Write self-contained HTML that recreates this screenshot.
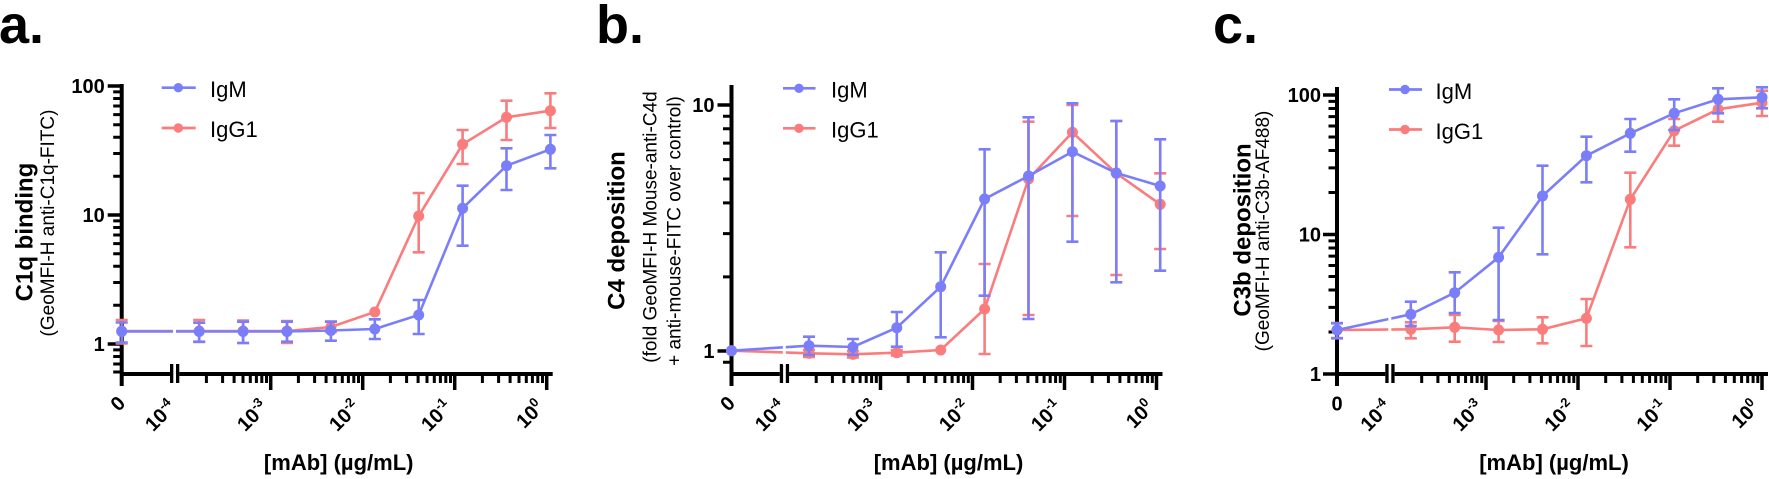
<!DOCTYPE html>
<html><head><meta charset="utf-8"><style>
html,body{margin:0;padding:0;background:#fff;}
svg{display:block;}
text{font-family:"Liberation Sans",Arial,Helvetica,sans-serif;}
</style></head><body>
<svg width="1769" height="479" viewBox="0 0 1769 479" xmlns="http://www.w3.org/2000/svg">
<rect width="1769" height="479" fill="#fff"/>
<defs>
<g id="xaxis">
<line x1="0" y1="374" x2="48.3" y2="374" stroke="#000" stroke-width="4"/>
<line x1="57.6" y1="374" x2="431" y2="374" stroke="#000" stroke-width="4"/>
<rect x="48.3" y="364" width="3.3" height="19" fill="#000"/>
<rect x="54.3" y="364" width="3.3" height="19" fill="#000"/>
<path d="M149,374V390M241,374V390M333,374V390M425,374V390" stroke="#000" stroke-width="3.5"/>
<path d="M84.7,374V383M100.9,374V383M112.4,374V383M121.3,374V383M128.6,374V383M134.7,374V383M140.1,374V383M144.8,374V383M176.7,374V383M192.9,374V383M204.4,374V383M213.3,374V383M220.6,374V383M226.7,374V383M232.1,374V383M236.8,374V383M268.7,374V383M284.9,374V383M296.4,374V383M305.3,374V383M312.6,374V383M318.7,374V383M324.1,374V383M328.8,374V383M360.7,374V383M376.9,374V383M388.4,374V383M397.3,374V383M404.6,374V383M410.7,374V383M416.1,374V383M420.8,374V383" stroke="#000" stroke-width="3"/>
<g font-size="20" font-weight="bold" fill="#000">
<text transform="translate(55.5,408.5) rotate(-45)" text-anchor="end">10<tspan font-size="13" dy="-8">-4</tspan></text>
<text transform="translate(147.5,408.5) rotate(-45)" text-anchor="end">10<tspan font-size="13" dy="-8">-3</tspan></text>
<text transform="translate(239.5,408.5) rotate(-45)" text-anchor="end">10<tspan font-size="13" dy="-8">-2</tspan></text>
<text transform="translate(331.5,408.5) rotate(-45)" text-anchor="end">10<tspan font-size="13" dy="-8">-1</tspan></text>
<text transform="translate(423.5,408.5) rotate(-45)" text-anchor="end">10<tspan font-size="13" dy="-8">0</tspan></text>
</g>
<text x="217" y="470" font-size="22" font-weight="bold" text-anchor="middle" fill="#000">[mAb] (µg/mL)</text>
</g>
</defs>

<!-- Panel letters -->
<g font-size="54" font-weight="bold" fill="#000">
<text x="-1" y="43">a.</text>
<text x="596" y="43">b.</text>
<text x="1213" y="43">c.</text>
</g>

<!-- Y titles -->
<g fill="#000" text-anchor="middle">
<text transform="translate(32.5,232) rotate(-90)" font-size="24" font-weight="bold">C1q binding</text>
<text transform="translate(54,223) rotate(-90)" font-size="19">(GeoMFI-H anti-C1q-FITC)</text>
<text transform="translate(624.5,230.5) rotate(-90)" font-size="24" font-weight="bold">C4 deposition</text>
<text transform="translate(656.5,227) rotate(-90)" font-size="19">(fold GeoMFI-H Mouse-anti-C4d</text>
<text transform="translate(680.5,231) rotate(-90)" font-size="19">+ anti-mouse-FITC over control)</text>
<text transform="translate(1250.5,230) rotate(-90)" font-size="24" font-weight="bold">C3b deposition</text>
<text transform="translate(1269,231) rotate(-90)" font-size="19">(GeoMFI-H anti-C3b-AF488)</text>
</g>

<!-- ===== Chart a ===== -->
<g transform="translate(121.7,0)">
<line x1="0" y1="84" x2="0" y2="386" stroke="#000" stroke-width="4"/>
<use href="#xaxis"/>
<path d="M-14,86H0M-14,215H0M-14,344H0" stroke="#000" stroke-width="3.5"/>
<path d="M-8.5,305.2H0M-8.5,282.5H0M-8.5,266.3H0M-8.5,253.8H0M-8.5,243.6H0M-8.5,235H0M-8.5,227.5H0M-8.5,220.9H0M-8.5,176.2H0M-8.5,153.5H0M-8.5,137.3H0M-8.5,124.8H0M-8.5,114.6H0M-8.5,106H0M-8.5,98.5H0M-8.5,91.9H0M-8.5,349.9H0M-8.5,356.5H0M-8.5,364H0M-8.5,372H0" stroke="#000" stroke-width="3"/>
<g font-size="20" font-weight="bold" text-anchor="end" fill="#000">
<text x="-17" y="93">100</text>
<text x="-17" y="222">10</text>
<text x="-17" y="351">1</text>
</g>
<text transform="translate(4.8,404.4) rotate(-45)" text-anchor="end" font-size="20" font-weight="bold">0</text>
<!-- IgG1 -->
<g stroke="#fa7c7c" fill="none" stroke-width="2.6">
<polyline points="0,331 77.5,331 121.4,331 165.3,331 209.2,327 253.1,312 297,216 340.9,144.3 384.8,117.3 428.7,110.7"/>
<path d="M0,320V343.5M-6,320H6M-6,343.5H6 M77.5,320V342M71.5,320H83.5M71.5,342H83.5 M121.4,320.5V343M115.4,320.5H127.4M115.4,343H127.4 M165.3,321V343M159.3,321H171.3M159.3,343H171.3 M209.2,321.5V332M203.2,321.5H215.2M203.2,332H215.2 M297,193V252.3M291,193H303M291,252.3H303 M340.9,130V164M334.9,130H346.9M334.9,164H346.9 M384.8,100.7V140M378.8,100.7H390.8M378.8,140H390.8 M428.7,93.3V128M422.7,93.3H434.7M422.7,128H434.7"/>
</g>
<g fill="#fa7c7c">
<circle cx="0" cy="331" r="5.5"/><circle cx="77.5" cy="331" r="5.5"/><circle cx="121.4" cy="331" r="5.5"/><circle cx="165.3" cy="331" r="5.5"/><circle cx="209.2" cy="327" r="5.5"/><circle cx="253.1" cy="312" r="5.5"/><circle cx="297" cy="216" r="5.5"/><circle cx="340.9" cy="144.3" r="5.5"/><circle cx="384.8" cy="117.3" r="5.5"/><circle cx="428.7" cy="110.7" r="5.5"/>
</g>
<!-- IgM -->
<g stroke="#7a7ef9" fill="none" stroke-width="2.6">
<polyline points="0,331.5 77.5,331.5 121.4,331.5 165.3,331.5 209.2,330.5 253.1,329 297,315 340.9,208.3 384.8,165.7 428.7,149.3"/>
<path d="M0,322.5V342.5M-6,322.5H6M-6,342.5H6 M77.5,322.7V341.7M71.5,322.7H83.5M71.5,341.7H83.5 M121.4,321.7V343M115.4,321.7H127.4M115.4,343H127.4 M165.3,321.7V341.7M159.3,321.7H171.3M159.3,341.7H171.3 M209.2,321.7V340.7M203.2,321.7H215.2M203.2,340.7H215.2 M253.1,319.3V339M247.1,319.3H259.1M247.1,339H259.1 M297,300V334M291,300H303M291,334H303 M340.9,185.7V245.7M334.9,185.7H346.9M334.9,245.7H346.9 M384.8,148.3V190M378.8,148.3H390.8M378.8,190H390.8 M428.7,135V168.3M422.7,135H434.7M422.7,168.3H434.7"/>
</g>
<g fill="#7a7ef9">
<circle cx="0" cy="331.5" r="5.5"/><circle cx="77.5" cy="331.5" r="5.5"/><circle cx="121.4" cy="331.5" r="5.5"/><circle cx="165.3" cy="331.5" r="5.5"/><circle cx="209.2" cy="330.5" r="5.5"/><circle cx="253.1" cy="329" r="5.5"/><circle cx="297" cy="315" r="5.5"/><circle cx="340.9" cy="208.3" r="5.5"/><circle cx="384.8" cy="165.7" r="5.5"/><circle cx="428.7" cy="149.3" r="5.5"/>
</g>
<rect x="51.3" y="300" width="3" height="60" fill="#fff"/>
<!-- legend -->
<line x1="40" y1="87.7" x2="74" y2="87.7" stroke="#7a7ef9" stroke-width="2.7"/><circle cx="56.6" cy="87.7" r="4.7" fill="#7a7ef9"/>
<line x1="40" y1="128" x2="74" y2="128" stroke="#fa7c7c" stroke-width="2.7"/><circle cx="56.6" cy="128" r="4.7" fill="#fa7c7c"/>
<text x="88.3" y="97" font-size="22" fill="#000">IgM</text>
<text x="88.3" y="137" font-size="22" fill="#000">IgG1</text>
</g>

<!-- ===== Chart b ===== -->
<g transform="translate(731.5,0)">
<line x1="0" y1="85" x2="0" y2="386" stroke="#000" stroke-width="4"/>
<use href="#xaxis"/>
<path d="M-14,105H0M-14,351H0" stroke="#000" stroke-width="3.5"/>
<path d="M-8.5,116.3H0M-8.5,128.8H0M-8.5,143.1H0M-8.5,159.6H0M-8.5,179H0M-8.5,202.9H0M-8.5,233.6H0M-8.5,276.9H0M-8.5,362.3H0" stroke="#000" stroke-width="3"/>
<g font-size="20" font-weight="bold" text-anchor="end" fill="#000">
<text x="-17" y="112">10</text>
<text x="-17" y="358">1</text>
</g>
<text transform="translate(4.8,404.4) rotate(-45)" text-anchor="end" font-size="20" font-weight="bold">0</text>
<!-- IgG1 -->
<g stroke="#fa7c7c" fill="none" stroke-width="2.6">
<polyline points="0,350.7 77.5,353.3 121.4,354.3 165.3,352.7 209.2,350 253.1,309 297,179 340.9,132.3 384.8,173.3 428.7,204.3"/>
<path d="M77.5,350V357M71.5,350H83.5M71.5,357H83.5 M121.4,351V357.5M115.4,351H127.4M115.4,357.5H127.4 M165.3,350V355.5M159.3,350H171.3M159.3,355.5H171.3 M253.1,264V354M247.1,264H259.1M247.1,354H259.1 M297,121.7V315M291,121.7H303M291,315H303 M340.9,105V216M334.9,105H346.9M334.9,216H346.9 M384.8,121V275M378.8,121H390.8M378.8,275H390.8 M428.7,173.3V249M422.7,173.3H434.7M422.7,249H434.7"/>
</g>
<g fill="#fa7c7c">
<circle cx="0" cy="350.7" r="5.5"/><circle cx="77.5" cy="353.3" r="5.5"/><circle cx="121.4" cy="354.3" r="5.5"/><circle cx="165.3" cy="352.7" r="5.5"/><circle cx="209.2" cy="350" r="5.5"/><circle cx="253.1" cy="309" r="5.5"/><circle cx="297" cy="179" r="5.5"/><circle cx="340.9" cy="132.3" r="5.5"/><circle cx="384.8" cy="173.3" r="5.5"/><circle cx="428.7" cy="204.3" r="5.5"/>
</g>
<!-- IgM -->
<g stroke="#7a7ef9" fill="none" stroke-width="2.6">
<polyline points="0,350.7 77.5,345.7 121.4,347 165.3,327.7 209.2,286.7 253.1,199 297,176 340.9,151.7 384.8,173 428.7,186"/>
<path d="M77.5,336.7V355M71.5,336.7H83.5M71.5,355H83.5 M121.4,339V355M115.4,339H127.4M115.4,355H127.4 M165.3,312V346.7M159.3,312H171.3M159.3,346.7H171.3 M209.2,252.3V337.3M203.2,252.3H215.2M203.2,337.3H215.2 M253.1,149.3V295.7M247.1,149.3H259.1M247.1,295.7H259.1 M297,117.3V319M291,117.3H303M291,319H303 M340.9,103.3V241.7M334.9,103.3H346.9M334.9,241.7H346.9 M384.8,121V282.3M378.8,121H390.8M378.8,282.3H390.8 M428.7,139.3V270.7M422.7,139.3H434.7M422.7,270.7H434.7"/>
</g>
<g fill="#7a7ef9">
<circle cx="0" cy="350.7" r="5.5"/><circle cx="77.5" cy="345.7" r="5.5"/><circle cx="121.4" cy="347" r="5.5"/><circle cx="165.3" cy="327.7" r="5.5"/><circle cx="209.2" cy="286.7" r="5.5"/><circle cx="253.1" cy="199" r="5.5"/><circle cx="297" cy="176" r="5.5"/><circle cx="340.9" cy="151.7" r="5.5"/><circle cx="384.8" cy="173" r="5.5"/><circle cx="428.7" cy="186" r="5.5"/>
</g>
<rect x="51.3" y="320" width="3" height="45" fill="#fff"/>
<!-- legend -->
<line x1="51.5" y1="88.3" x2="84" y2="88.3" stroke="#7a7ef9" stroke-width="2.7"/><circle cx="67.5" cy="88.3" r="4.7" fill="#7a7ef9"/>
<line x1="51.5" y1="128.3" x2="84" y2="128.3" stroke="#fa7c7c" stroke-width="2.7"/><circle cx="67.5" cy="128.3" r="4.7" fill="#fa7c7c"/>
<text x="99.5" y="97.5" font-size="22" fill="#000">IgM</text>
<text x="99.5" y="137.5" font-size="22" fill="#000">IgG1</text>
</g>

<!-- ===== Chart c ===== -->
<g transform="translate(1337,0)">
<line x1="0" y1="87" x2="0" y2="386" stroke="#000" stroke-width="4"/>
<use href="#xaxis"/>
<path d="M-14,95H0M-14,234.5H0M-14,374H0" stroke="#000" stroke-width="3.5"/>
<path d="M-8.5,332H0M-8.5,307.4H0M-8.5,290H0M-8.5,276.5H0M-8.5,265.5H0M-8.5,256.1H0M-8.5,248H0M-8.5,240.9H0M-8.5,192.5H0M-8.5,167.9H0M-8.5,150.5H0M-8.5,137H0M-8.5,126H0M-8.5,116.6H0M-8.5,108.5H0M-8.5,101.4H0" stroke="#000" stroke-width="3"/>
<g font-size="20" font-weight="bold" text-anchor="end" fill="#000">
<text x="-16" y="102">100</text>
<text x="-16" y="241.5">10</text>
<text x="-16" y="381">1</text>
</g>
<text x="0" y="410.5" text-anchor="middle" font-size="20" font-weight="bold">0</text>
<!-- IgG1 -->
<g stroke="#fa7c7c" fill="none" stroke-width="2.6">
<polyline points="0,330 73.8,329.3 117.7,327.3 161.6,330 205.5,329.3 249.4,318.3 293.3,199.3 337.2,130.7 381.1,109.3 425,102.7"/>
<path d="M0,323V338M-6,323H6M-6,338H6 M73.8,322.3V338.3M67.8,322.3H79.8M67.8,338.3H79.8 M117.7,315V341.7M111.7,315H123.7M111.7,341.7H123.7 M161.6,321V342M155.6,321H167.6M155.6,342H167.6 M205.5,317.3V343.3M199.5,317.3H211.5M199.5,343.3H211.5 M249.4,299V346M243.4,299H255.4M243.4,346H255.4 M293.3,172.7V247.3M287.3,172.7H299.3M287.3,247.3H299.3 M337.2,119V145.7M331.2,119H343.2M331.2,145.7H343.2 M381.1,99V121.7M375.1,99H387.1M375.1,121.7H387.1 M425,90.7V116M419,90.7H431M419,116H431"/>
</g>
<g fill="#fa7c7c">
<circle cx="0" cy="330" r="5.5"/><circle cx="73.8" cy="329.3" r="5.5"/><circle cx="117.7" cy="327.3" r="5.5"/><circle cx="161.6" cy="330" r="5.5"/><circle cx="205.5" cy="329.3" r="5.5"/><circle cx="249.4" cy="318.3" r="5.5"/><circle cx="293.3" cy="199.3" r="5.5"/><circle cx="337.2" cy="130.7" r="5.5"/><circle cx="381.1" cy="109.3" r="5.5"/><circle cx="425" cy="102.7" r="5.5"/>
</g>
<!-- IgM -->
<g stroke="#7a7ef9" fill="none" stroke-width="2.6">
<polyline points="0,330 73.8,314.3 117.7,292.7 161.6,257.3 205.5,196 249.4,155.7 293.3,133.3 337.2,113.3 381.1,99.3 425,97.3"/>
<path d="M0,323.3V338.3M-6,323.3H6M-6,338.3H6 M73.8,301.7V326M67.8,301.7H79.8M67.8,326H79.8 M117.7,272.3V313M111.7,272.3H123.7M111.7,313H123.7 M161.6,227.7V320M155.6,227.7H167.6M155.6,320H167.6 M205.5,165.7V254.3M199.5,165.7H211.5M199.5,254.3H211.5 M249.4,136.7V182.3M243.4,136.7H255.4M243.4,182.3H255.4 M293.3,119V151.7M287.3,119H299.3M287.3,151.7H299.3 M337.2,99.3V130M331.2,99.3H343.2M331.2,130H343.2 M381.1,88.3V113.3M375.1,88.3H387.1M375.1,113.3H387.1 M425,87.3V108.3M419,87.3H431M419,108.3H431"/>
</g>
<g fill="#7a7ef9">
<circle cx="0" cy="330" r="5.5"/><circle cx="73.8" cy="314.3" r="5.5"/><circle cx="117.7" cy="292.7" r="5.5"/><circle cx="161.6" cy="257.3" r="5.5"/><circle cx="205.5" cy="196" r="5.5"/><circle cx="249.4" cy="155.7" r="5.5"/><circle cx="293.3" cy="133.3" r="5.5"/><circle cx="337.2" cy="113.3" r="5.5"/><circle cx="381.1" cy="99.3" r="5.5"/><circle cx="425" cy="97.3" r="5.5"/>
</g>
<rect x="51.3" y="305" width="3" height="45" fill="#fff"/>
<!-- legend -->
<line x1="52" y1="89.5" x2="85" y2="89.5" stroke="#7a7ef9" stroke-width="2.7"/><circle cx="68" cy="89.5" r="4.7" fill="#7a7ef9"/>
<line x1="52" y1="129.5" x2="85" y2="129.5" stroke="#fa7c7c" stroke-width="2.7"/><circle cx="68" cy="129.5" r="4.7" fill="#fa7c7c"/>
<text x="98.5" y="99" font-size="22" fill="#000">IgM</text>
<text x="98.5" y="139" font-size="22" fill="#000">IgG1</text>
</g>
</svg>
</body></html>
